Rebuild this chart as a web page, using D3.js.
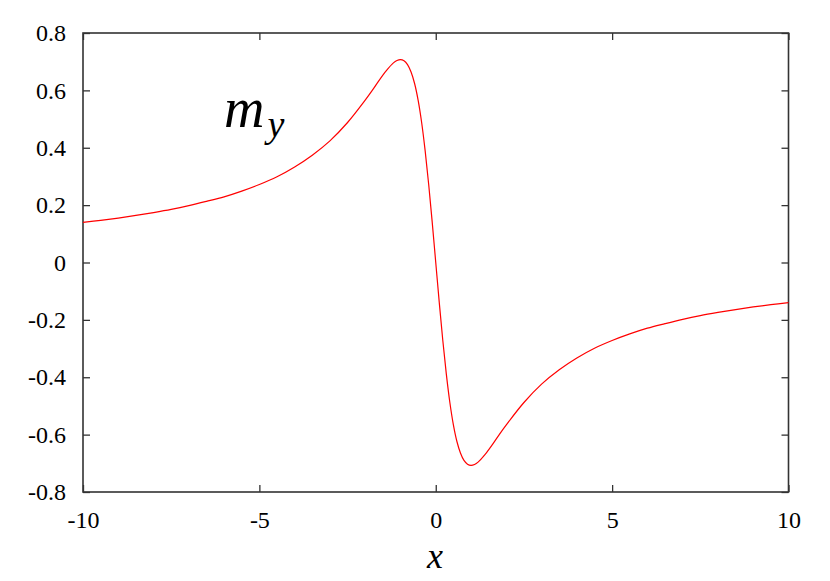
<!DOCTYPE html>
<html>
<head>
<meta charset="utf-8">
<script src="https://cdn.jsdelivr.net/npm/d3@7"></script>
<style>
  html body svg#s text, html body svg#s tspan { font-family: "Liberation Serif", "Times New Roman", Times !important; }
</style>
</head>
<body style="margin:0">
<svg id="s" width="830" height="581"></svg>
<script>
// ---- data ----
const xValues = [-10, -9.5, -9, -8.5, -8, -7.5, -7, -6.5, -6, -5.5, -5, -4.5, -4, -3.5, -3, -2.5, -2, -1.8, -1.6, -1.4, -1.2, -1.1, -1.0, -0.9, -0.8, -0.7, -0.6, -0.5, -0.4, -0.3, -0.2, -0.1, 0,
  0.1, 0.2, 0.3, 0.4, 0.5, 0.6, 0.7, 0.8, 0.9, 1.0, 1.1, 1.2, 1.4, 1.6, 1.8, 2, 2.5, 3, 3.5, 4, 4.5, 5, 5.5, 6, 6.5, 7, 7.5, 8, 8.5, 9, 9.5, 10];
const myValues = [0.140, 0.147, 0.155, 0.164, 0.174, 0.185, 0.198, 0.213, 0.229, 0.249, 0.272, 0.299, 0.333, 0.374, 0.424, 0.488, 0.566, 0.600, 0.636, 0.669, 0.696, 0.704, 0.707, 0.703, 0.690, 0.664, 0.624, 0.566, 0.488, 0.389, 0.272, 0.140, 0,
  -0.140, -0.272, -0.389, -0.488, -0.566, -0.624, -0.664, -0.690, -0.703, -0.707, -0.704, -0.696, -0.669, -0.636, -0.600, -0.566, -0.488, -0.424, -0.374, -0.333, -0.299, -0.272, -0.249, -0.229, -0.213, -0.198, -0.185, -0.174, -0.164, -0.155, -0.147, -0.140];
const xTicks = [-10, -5, 0, 5, 10];
const yTicks = [-0.8, -0.6, -0.4, -0.2, 0, 0.2, 0.4, 0.6, 0.8];
const xTickLabels = ["-10", "-5", "0", "5", "10"];
const yTickLabels = ["-0.8", "-0.6", "-0.4", "-0.2", "0", "0.2", "0.4", "0.6", "0.8"];
const seriesLabel = "m";
const seriesSub = "y";
const xAxisLabel = "x";

// ---- layout ----
const mLeft = 83, mRight = 788.5, mTop = 33, mBottom = 492;
const svg = d3.select("#s");
const x = d3.scaleLinear().domain([-10, 10]).range([mLeft, mRight]);
const y = d3.scaleLinear().domain([-0.8, 0.8]).range([mBottom, mTop]);

const fam = '"Liberation Serif", "Times New Roman", Times';
const frameColor = "#333";
const tickLen = 7;

const fmtX = d => xTickLabels[xTicks.indexOf(d)];
const fmtY = d => yTickLabels[yTicks.findIndex(v => Math.abs(v - d) < 1e-9)];

function styleAxis(g) {
  g.attr("font-family", fam);
  g.select(".domain").remove();
  g.selectAll(".tick line").attr("stroke", frameColor).attr("stroke-width", 1.3);
  g.selectAll(".tick text").attr("fill", "#000")
    .attr("font-family", fam).style("font-size", "24px");
}

// bottom axis (ticks inward)
svg.append("g").attr("transform", `translate(0,${mBottom})`)
  .call(d3.axisBottom(x).tickValues(xTicks).tickFormat(fmtX).tickSizeInner(-tickLen).tickSizeOuter(0).tickPadding(19))
  .call(styleAxis);
// top axis mirror ticks
svg.append("g").attr("transform", `translate(0,${mTop})`)
  .call(d3.axisTop(x).tickValues(xTicks).tickFormat("").tickSizeInner(-tickLen).tickSizeOuter(0))
  .call(styleAxis);
// left axis
svg.append("g").attr("transform", `translate(${mLeft},0)`)
  .call(d3.axisLeft(y).tickValues(yTicks).tickFormat(fmtY).tickSizeInner(-tickLen).tickSizeOuter(0).tickPadding(17))
  .call(styleAxis);
// right axis mirror ticks
svg.append("g").attr("transform", `translate(${mRight},0)`)
  .call(d3.axisRight(y).tickValues(yTicks).tickFormat("").tickSizeInner(-tickLen).tickSizeOuter(0))
  .call(styleAxis);

// frame
svg.append("rect")
  .attr("x", mLeft).attr("y", mTop)
  .attr("width", mRight - mLeft).attr("height", mBottom - mTop)
  .attr("fill", "none").attr("stroke", frameColor).attr("stroke-width", 1.6);

// curve
const pts = xValues.map((xv, i) => [xv, myValues[i]]);
svg.append("path")
  .datum(pts)
  .attr("fill", "none")
  .attr("stroke", "#ff0000")
  .attr("stroke-width", 1.2)
  .attr("d", d3.line().x(d => x(d[0])).y(d => y(d[1])).curve(d3.curveCatmullRom.alpha(0.5)));

// series label m_y
const lab = svg.append("text")
  .attr("x", 224).attr("y", 127).attr("font-family", fam)
  .style("font-style", "italic").style("font-size", "56px").attr("fill", "#000");
lab.append("tspan").text(seriesLabel);
lab.append("tspan").attr("dx", 3).attr("dy", 10).style("font-size", "38px").text(seriesSub);

// x axis label
svg.append("text")
  .attr("x", 435).attr("y", 567.5).attr("text-anchor", "middle").attr("font-family", fam)
  .style("font-style", "italic").style("font-size", "36px").attr("fill", "#000")
  .text(xAxisLabel);
</script>
</body>
</html>
